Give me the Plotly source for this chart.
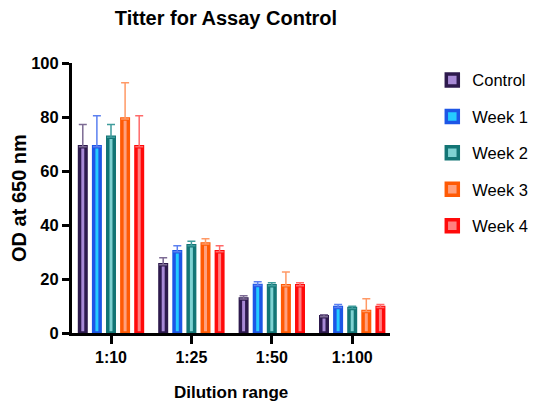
import plotly.graph_objects as go

categories = ["1:10", "1:25", "1:50", "1:100"]
series_names = ["Control", "Week 1", "Week 2", "Week 3", "Week 4"]
values = {
    "Control": [69.0, 25.3, 12.6, 6.0],
    "Week 1": [69.0, 30.1, 17.6, 9.4],
    "Week 2": [72.5, 32.3, 17.5, 9.1],
    "Week 3": [79.3, 33.0, 17.5, 8.0],
    "Week 4": [69.0, 30.1, 17.5, 9.4],
}
errors = {
    "Control": [8.2, 2.6, 1.2, 0.8],
    "Week 1": [11.5, 2.2, 1.4, 1.2],
    "Week 2": [4.7, 1.7, 1.1, 0.8],
    "Week 3": [13.4, 1.9, 5.1, 4.7],
    "Week 4": [11.5, 2.2, 1.1, 1.2],
}
y_ticks = [0, 20, 40, 60, 80, 100]

outline = {"Control": "#2D1A4D", "Week 1": "#1D56E6", "Week 2": "#137575",
           "Week 3": "#FF5A05", "Week 4": "#FF0A0A"}
fill = {"Control": "#A88AD6", "Week 1": "#25CBFF", "Week 2": "#7FD2D2",
        "Week 3": "#FFA07E", "Week 4": "#FF8080"}
errcol = {"Control": "#7D6B94", "Week 1": "#5C80F0", "Week 2": "#3F9C9C",
          "Week 3": "#FF9966", "Week 4": "#FF6A6A"}

SANS = "Liberation Sans, Arial, sans-serif"

fig = go.Figure()
for i, name in enumerate(series_names):
    fig.add_trace(go.Bar(
        x=categories, y=values[name], name=name, legendgroup=name,
        marker=dict(color=fill[name], line=dict(color=outline[name], width=3.5)),
        error_y=dict(type="data", array=errors[name], arrayminus=[0] * len(categories),
                     symmetric=False, color=errcol[name], thickness=1.5, width=4),
    ))

fig.update_layout(
    width=533, height=406,
    margin=dict(l=72, r=143, t=63, b=73, autoexpand=False),
    paper_bgcolor="white", plot_bgcolor="white",
    barmode="group", bargap=0.123, bargroupgap=0.54,
    showlegend=True,
    legend=dict(x=1.133, xanchor="left", y=1.001, yanchor="top",
                font=dict(family=SANS, size=16.5, color="black"),
                tracegroupgap=12, itemwidth=30),
    font=dict(family=SANS, color="black"),
    title=dict(text="<b>Titter for Assay Control</b>", x=226 / 533, xanchor="center",
               y=1 - 17.5 / 406, yanchor="middle",
               font=dict(family=SANS, size=20, color="black")),
)
fig.update_xaxes(
    type="category", range=[-0.485, 3.47],
    tickvals=categories, ticktext=[f"<b>{c}</b>" for c in categories],
    showline=True, linecolor="black", linewidth=3,
    ticks="outside", ticklen=8, tickwidth=3, tickcolor="black",
    tickfont=dict(family=SANS, size=16, color="black"),
    showgrid=False, zeroline=False,
)
fig.update_yaxes(
    range=[0, 100], tickvals=y_ticks, ticktext=[f"<b>{v}</b>" for v in y_ticks],
    showline=True, linecolor="black", linewidth=3,
    ticks="outside", ticklen=7, tickwidth=3, tickcolor="black",
    tickfont=dict(family=SANS, size=16.5, color="black"),
    showgrid=False, zeroline=False,
)

fig.add_annotation(text="<b>OD at 650 nm</b>", xref="paper", yref="paper",
                   x=(19 - 72) / 318, y=0.5, xanchor="center", yanchor="middle",
                   textangle=-90, showarrow=False,
                   font=dict(family=SANS, size=20, color="black"))
fig.add_annotation(text="<b>Dilution range</b>", xref="paper", yref="paper",
                   x=0.5, y=(333 - 392) / 270, xanchor="center", yanchor="middle",
                   showarrow=False,
                   font=dict(family=SANS, size=17, color="black"))

fig.write_html("out.html")
